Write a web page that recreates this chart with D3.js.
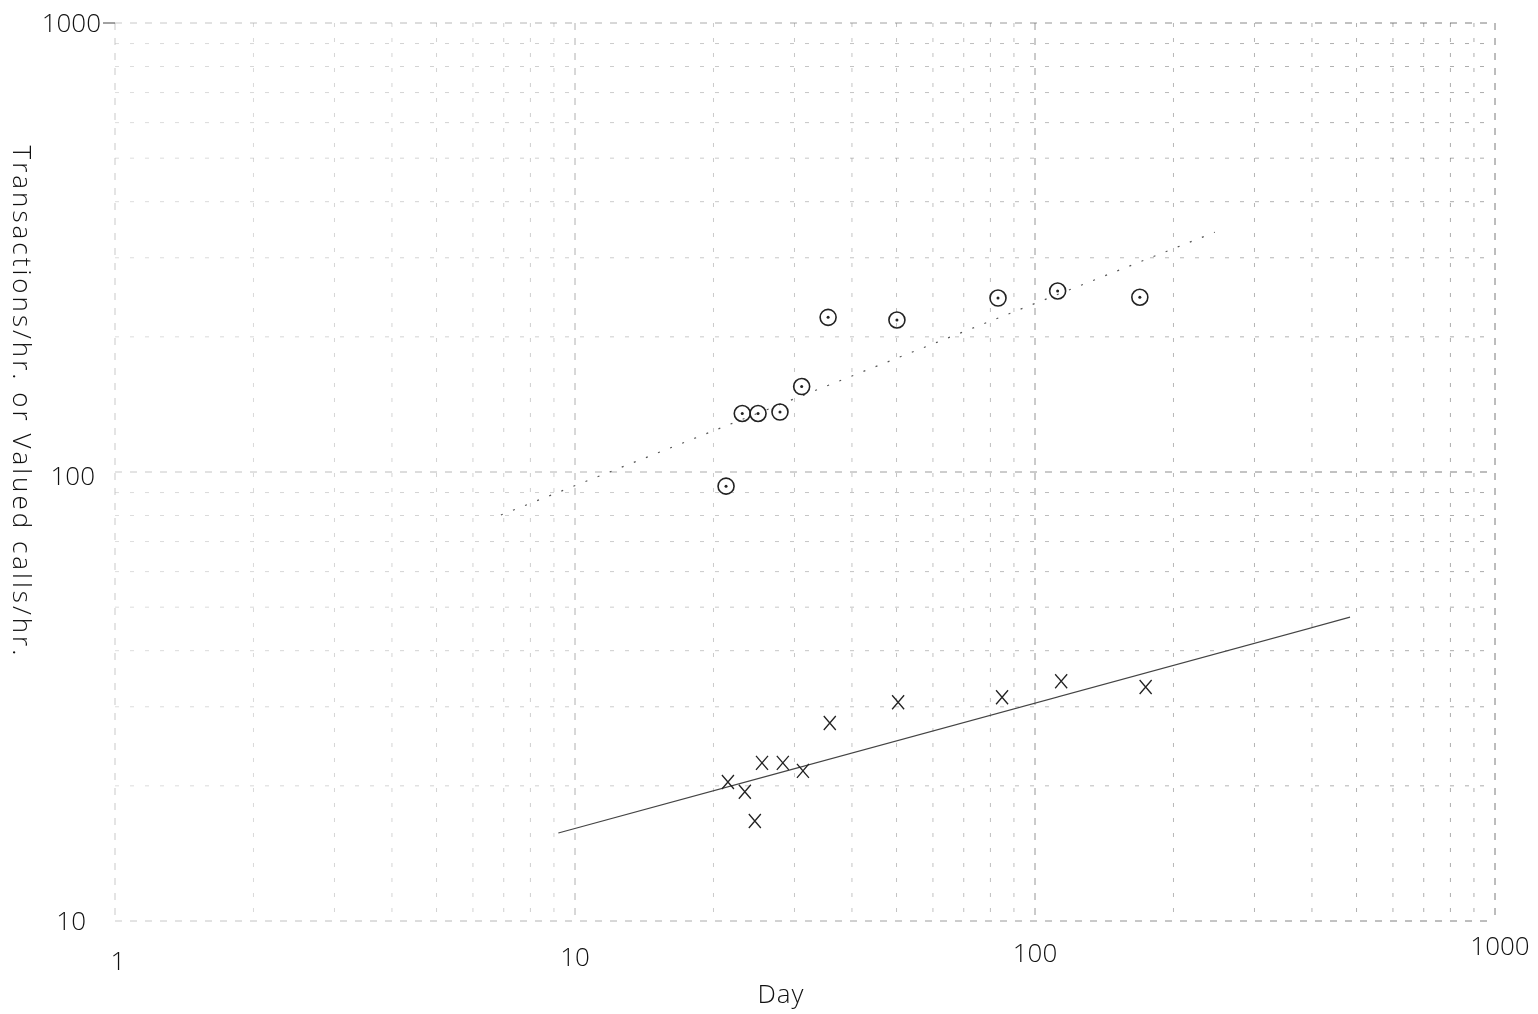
<!DOCTYPE html>
<html>
<head>
<meta charset="utf-8">
<script src="https://d3js.org/d3.v7.min.js"></script>
<style>
body { margin: 0; background: #fff; }
text { font-family: "Open Sans", "DejaVu Sans", sans-serif; font-weight: 300; fill: #111; }
.grid line { stroke: #666; stroke-width: 1; stroke-dasharray: 4,11; opacity: 0.55; }
.grid line.major { stroke: #444; stroke-dasharray: 7,8; opacity: 0.7; }
</style>
</head>
<body>
<svg id="chart" width="1538" height="1014"></svg>
<script>
// circles: transactions/hr
var circleDays = [21.3, 23.1, 25.0, 27.9, 31.1, 35.5, 50.1, 83.1, 112, 169]
var circleVals = [93, 135, 135, 136, 155, 221, 218, 244, 253, 245]
// crosses: valued calls/hr
var crossDays = [21.5, 23.4, 24.6, 25.5, 28.3, 31.3, 35.8, 50.4, 84.8, 114, 174]
var crossVals = [20.4, 19.4, 16.7, 22.5, 22.5, 21.6, 27.6, 30.7, 31.5, 34.2, 33.2]
// fitted lines (end points)
var solidFit = [[9.2, 15.7], [484, 47.5]]
var dottedFit = [[6.9, 80.2], [246, 342]]
var xTicks = [1, 10, 100, 1000]
var yTicks = [10, 100, 1000]

var svg = d3.select("#chart")
var x = d3.scaleLog().domain([1, 1000]).range([115, 1495])
var y = d3.scaleLog().domain([10, 1000]).range([921, 23])

// faded paper: grid gets stronger to the right
var defs = svg.append("defs")
var grad = defs.append("linearGradient").attr("id", "fade")
    .attr("gradientUnits", "userSpaceOnUse")
    .attr("x1", x(1)).attr("x2", x(1000)).attr("y1", 0).attr("y2", 0)
grad.append("stop").attr("offset", 0).attr("stop-color", "#fff").attr("stop-opacity", 0.4)
grad.append("stop").attr("offset", 0.45).attr("stop-color", "#fff").attr("stop-opacity", 0.65)
grad.append("stop").attr("offset", 1).attr("stop-color", "#fff").attr("stop-opacity", 1)
defs.append("mask").attr("id", "fadeMask")
    .attr("maskUnits", "userSpaceOnUse")
    .attr("x", 0).attr("y", 0).attr("width", 1538).attr("height", 1014)
  .append("rect").attr("x", 0).attr("y", 0).attr("width", 1538).attr("height", 1014)
    .attr("fill", "url(#fade)")

// log paper grid
var gridX = [], gridY = []
for (let e = 0; e < 3; e++) {
    for (let k = 1; k < 10; k++) gridX.push(k * Math.pow(10, e))
}
gridX.push(1000)
for (let e = 1; e < 3; e++) {
    for (let k = 1; k < 10; k++) gridY.push(k * Math.pow(10, e))
}
gridY.push(1000)

var grid = svg.append("g").attr("class", "grid").attr("mask", "url(#fadeMask)")
grid.selectAll(".vx").data(gridX).enter().append("line")
    .attr("class", d => Math.log10(d) % 1 === 0 ? "major" : "minor")
    .attr("x1", d => x(d)).attr("x2", d => x(d))
    .attr("y1", y(1000)).attr("y2", y(10))
grid.selectAll(".hy").data(gridY).enter().append("line")
    .attr("class", d => Math.log10(d) % 1 === 0 ? "major" : "minor")
    .attr("x1", x(1)).attr("x2", x(1000))
    .attr("y1", d => y(d)).attr("y2", d => y(d))

// tick labels
svg.selectAll(".xl").data(xTicks).enter().append("text")
    .attr("x", d => x(d) + (d === 1 ? 3 : d === 1000 ? 5 : 0))
    .attr("y", d => d === 1 ? 970 : d === 10 ? 966 : d === 100 ? 962 : 955)
    .attr("text-anchor", "middle")
    .style("font-size", "26px")
    .text(d => d)
svg.selectAll(".yl").data(yTicks).enter().append("text")
    .attr("x", d => d === 10 ? 86 : d === 100 ? 95 : 101)
    .attr("y", d => y(d) + 9 + (d === 100 ? 4 : 0))
    .attr("text-anchor", "end")
    .style("font-size", "26px")
    .text(d => d)
svg.append("line")
    .attr("x1", 103).attr("x2", 115).attr("y1", y(1000)).attr("y2", y(1000))
    .style("stroke", "#444").style("stroke-width", 1)

// axis titles
svg.append("text")
    .attr("x", 781).attr("y", 1003)
    .attr("text-anchor", "middle")
    .style("font-size", "26px")
    .style("letter-spacing", "1px")
    .text("Day")
svg.append("text")
    .attr("transform", "translate(13,402) rotate(90)")
    .attr("text-anchor", "middle")
    .style("font-size", "26px")
    .style("letter-spacing", "3px")
    .text("Transactions/hr. or Valued calls/hr.")

// fitted lines
var line = d3.line().x(d => x(d[0])).y(d => y(d[1]))
svg.append("path").datum(solidFit).attr("d", line)
    .style("fill", "none").style("stroke", "#444").style("stroke-width", 1.2)
svg.append("path").datum(dottedFit).attr("d", line)
    .style("fill", "none").style("stroke", "#555").style("stroke-width", 1.2)
    .style("stroke-dasharray", "2,11")

// circle markers
var circles = d3.zip(circleDays, circleVals)
var cg = svg.selectAll(".circ").data(circles).enter().append("g")
    .attr("transform", d => "translate(" + x(d[0]) + "," + y(d[1]) + ")")
cg.append("circle").attr("r", 8)
    .style("fill", "none").style("stroke", "#222").style("stroke-width", 1.6)
cg.append("circle").attr("r", 1.5).style("fill", "#222")

// cross markers
var crosses = d3.zip(crossDays, crossVals)
var xg = svg.selectAll(".cross").data(crosses).enter().append("g")
    .attr("transform", d => "translate(" + x(d[0]) + "," + y(d[1]) + ")")
xg.append("path").attr("d", "M-6,-7L6,7M6,-7L-6,7")
    .style("fill", "none").style("stroke", "#222").style("stroke-width", 1.3)
</script>
</body>
</html>
